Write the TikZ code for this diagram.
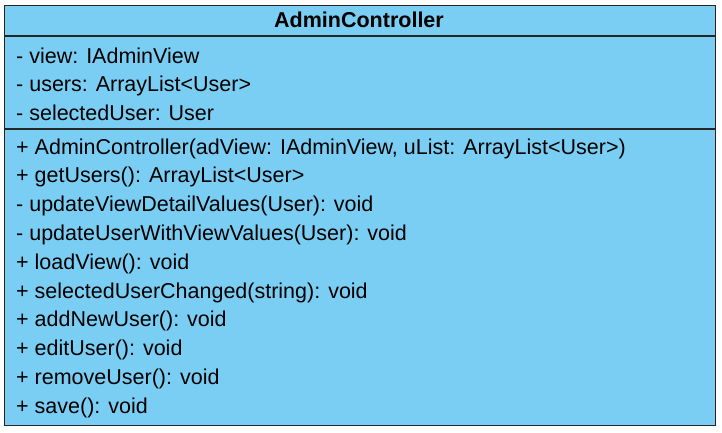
\documentclass[tikz,border=0pt]{standalone}
\usepackage{fontspec}
\setmainfont{Liberation Sans}
\usetikzlibrary{positioning}
\definecolor{classblue}{RGB}{122,206,244}
\newcommand{\myunit}{28.8}
\tikzset{
    boxsty/.style={draw=black!85,line width=1.6pt,fill=classblue},
    sepsty/.style={draw=black!85,line width=1.4pt},
    titlesty/.style={font=\fontsize{21.5}{25}\selectfont\bfseries,anchor=base,inner sep=0pt},
    membersty/.style={font=\fontsize{21.5}{25}\selectfont,anchor=base west,inner sep=0pt},
}

\begin{document}
\begin{tikzpicture}[x=1pt,y=-1pt]
  \useasboundingbox (0,0) rectangle (722,432);
  \node[boxsty,rectangle,minimum width=711pt,minimum height=420pt,anchor=north west,inner sep=0pt] (class) at (3.5,4.5) {};

  % compartments
  \coordinate (sepA) at (3.5,36);
  \coordinate (sepB) at (3.5,129);
  \draw[sepsty] (sepA) -- (sepA -| class.east);
  \draw[sepsty] (sepB) -- (sepB -| class.east);

  \node[titlesty] (title) at (359,27) {AdminController};

  % attributes
  \foreach \txt [count=\i] in {- view: IAdminView,
                               - users: ArrayList<User>,
                               - selectedUser: User}
    \node[membersty] (attr\i) at (16,{63+(\i-1)*\myunit}) {\txt};

  % operations
  \foreach \txt [count=\i] in {{+ AdminController(adView: IAdminView, uList: ArrayList<User>)},
                               + getUsers(): ArrayList<User>,
                               - updateViewDetailValues(User): void,
                               - updateUserWithViewValues(User): void,
                               + loadView(): void,
                               + selectedUserChanged(string): void,
                               + addNewUser(): void,
                               + editUser(): void,
                               + removeUser(): void,
                               + save(): void}
    \node[membersty] (meth\i) at (16,{154+(\i-1)*\myunit}) {\txt};
\end{tikzpicture}
\end{document}
